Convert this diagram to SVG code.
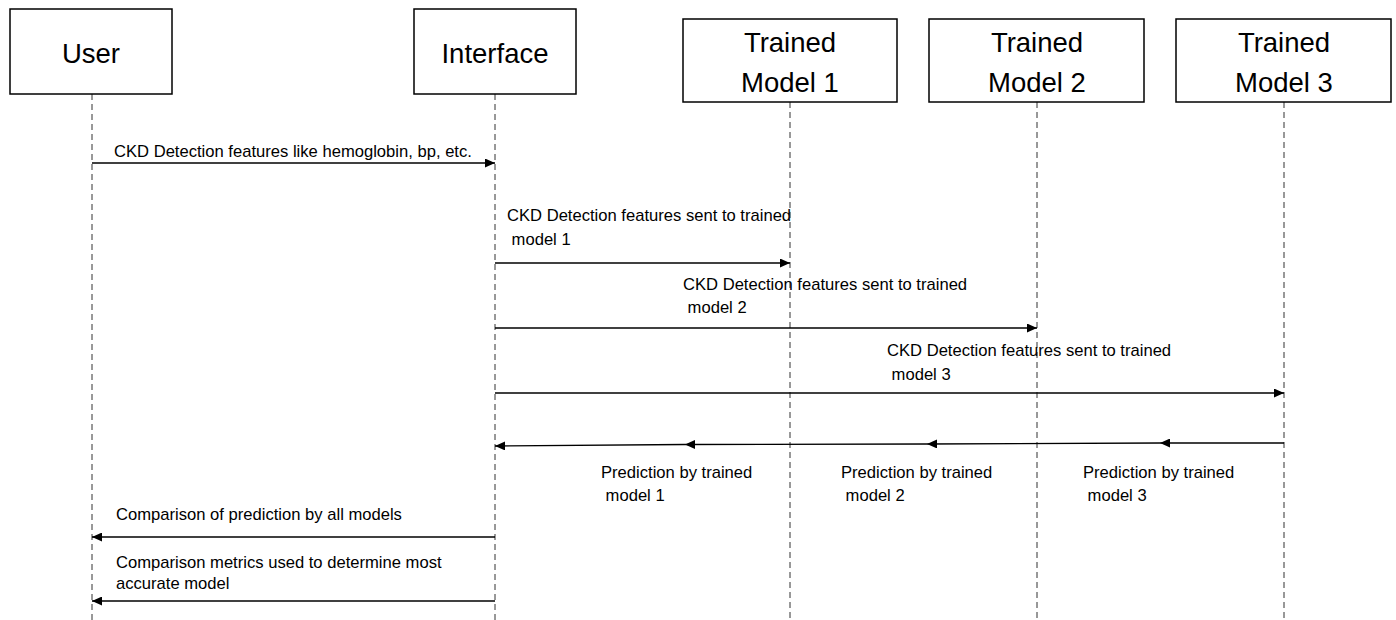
<svg xmlns="http://www.w3.org/2000/svg" width="1396" height="620" viewBox="0 0 1396 620">
<defs>
<marker id="ah" viewBox="0 0 10 9" refX="10" refY="4.5" markerWidth="10" markerHeight="9" markerUnits="userSpaceOnUse" orient="auto">
<path d="M0,0 L10,4.5 L0,9 Z" fill="#000"/>
</marker>
</defs>
<style>
.box{fill:#fff;stroke:#000;stroke-width:1.5}
.head{font-family:"Liberation Sans",Arial,sans-serif;font-size:27.5px;fill:#000;text-anchor:middle}
.life{stroke:#333;stroke-width:1;stroke-dasharray:6,4;fill:none}
.msg{stroke:#000;stroke-width:1.3;fill:none;marker-end:url(#ah)}
.lbl{font-family:"Liberation Sans",Arial,sans-serif;font-size:16.6px;fill:#000}
</style>
<rect width="1396" height="620" fill="#fff"/>
<g id="lifelines">
<line class="life" x1="92" y1="94" x2="92" y2="620"/>
<line class="life" x1="495" y1="94" x2="495" y2="620"/>
<line class="life" x1="790" y1="102" x2="790" y2="620"/>
<line class="life" x1="1037" y1="102" x2="1037" y2="620"/>
<line class="life" x1="1284" y1="102" x2="1284" y2="620"/>
</g>
<g id="user"><rect class="box" x="10" y="9" width="162" height="85"/><text class="head" x="91" y="63">User</text></g>
<g id="interface"><rect class="box" x="414" y="9" width="162" height="85"/><text class="head" x="495" y="63">Interface</text></g>
<g id="model1"><rect class="box" x="683" y="19" width="214" height="83"/><text class="head" x="790" y="52">Trained</text><text class="head" x="790" y="92">Model 1</text></g>
<g id="model2"><rect class="box" x="929" y="19" width="215" height="83"/><text class="head" x="1037" y="52">Trained</text><text class="head" x="1037" y="92">Model 2</text></g>
<g id="model3"><rect class="box" x="1176" y="19" width="215" height="83"/><text class="head" x="1284" y="52">Trained</text><text class="head" x="1284" y="92">Model 3</text></g>
<g id="connectors">
<line class="msg" x1="92" y1="163" x2="495" y2="163"/>
<line class="msg" x1="495" y1="263" x2="790" y2="263"/>
<line class="msg" x1="495" y1="328" x2="1037" y2="328"/>
<line class="msg" x1="495" y1="393" x2="1284" y2="393"/>
<line class="msg" x1="1284" y1="443" x2="1160" y2="443"/>
<line class="msg" x1="1160" y1="443" x2="927" y2="444"/>
<line class="msg" x1="927" y1="444" x2="685" y2="444.5"/>
<line class="msg" x1="685" y1="444.5" x2="495" y2="446"/>
<line class="msg" x1="495" y1="537" x2="92" y2="537"/>
<line class="msg" x1="495" y1="601" x2="92" y2="601"/>
</g>
<g id="labels">
<text class="lbl" x="114" y="157">CKD Detection features like hemoglobin, bp, etc.</text>
<text class="lbl" x="507" y="221">CKD Detection features sent to trained</text>
<text class="lbl" x="507" y="245" xml:space="preserve"> model 1</text>
<text class="lbl" x="683" y="290">CKD Detection features sent to trained</text>
<text class="lbl" x="683" y="313" xml:space="preserve"> model 2</text>
<text class="lbl" x="887" y="356">CKD Detection features sent to trained</text>
<text class="lbl" x="887" y="380" xml:space="preserve"> model 3</text>
<text class="lbl" x="601" y="478">Prediction by trained</text>
<text class="lbl" x="601" y="501" xml:space="preserve"> model 1</text>
<text class="lbl" x="841" y="478">Prediction by trained</text>
<text class="lbl" x="841" y="501" xml:space="preserve"> model 2</text>
<text class="lbl" x="1083" y="478">Prediction by trained</text>
<text class="lbl" x="1083" y="501" xml:space="preserve"> model 3</text>
<text class="lbl" x="116" y="520">Comparison of prediction by all models</text>
<text class="lbl" x="116" y="568">Comparison metrics used to determine most</text>
<text class="lbl" x="116" y="589">accurate model</text>
</g>
</svg>
